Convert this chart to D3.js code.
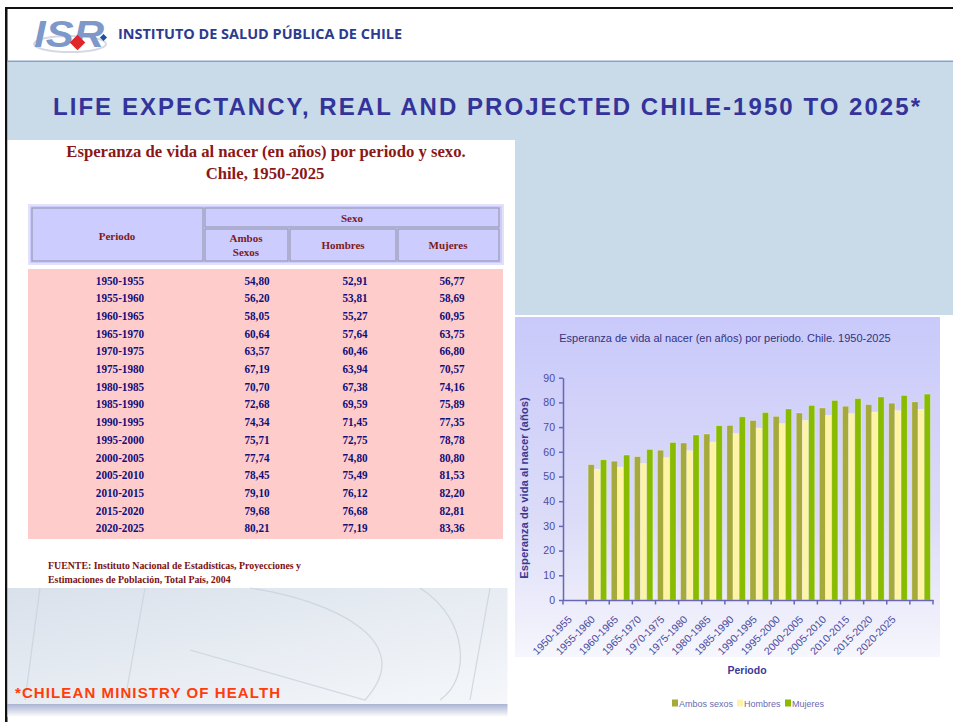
<!DOCTYPE html>
<html>
<head>
<meta charset="utf-8">
<script src="https://cdn.jsdelivr.net/npm/d3@7"></script>
<style>
  body { margin: 0; background: #fff; }
  svg { display: block; }
</style>
</head>
<body>
<script>
// Data
let periods = ["1950-1955", "1955-1960", "1960-1965", "1965-1970", "1970-1975",
  "1975-1980", "1980-1985", "1985-1990", "1990-1995", "1995-2000",
  "2000-2005", "2005-2010", "2010-2015", "2015-2020", "2020-2025"];
let ambos = [54.80, 56.20, 58.05, 60.64, 63.57, 67.19, 70.70, 72.68, 74.34, 75.71,
  77.74, 78.45, 79.10, 79.68, 80.21];
let hombres = [52.91, 53.81, 55.27, 57.64, 60.46, 63.94, 67.38, 69.59, 71.45, 72.75,
  74.80, 75.49, 76.12, 76.68, 77.19];
let mujeres = [56.77, 58.69, 60.95, 63.75, 66.80, 70.57, 74.16, 75.89, 77.35, 78.78,
  80.80, 81.53, 82.20, 82.81, 83.36];
let seriesNames = ["Ambos sexos", "Hombres", "Mujeres"];
let yTicks = [0, 10, 20, 30, 40, 50, 60, 70, 80, 90];

let width = 953, height = 722;
let sans = "'Liberation Sans', Arial, sans-serif";
let serif = "'Liberation Serif', 'Times New Roman', serif";

let svg = d3.select('body')
  .append('svg')
  .attr('width', width)
  .attr('height', height);

let defs = svg.append('defs');

let g1 = defs.append('linearGradient').attr('id', 'chartBg')
  .attr('x1', 0).attr('y1', 0).attr('x2', 0).attr('y2', 1);
g1.append('stop').attr('offset', '0%').attr('stop-color', '#c9c9fb');
g1.append('stop').attr('offset', '60%').attr('stop-color', '#dcdcf8');
g1.append('stop').attr('offset', '100%').attr('stop-color', '#f6f6fd');

let g2 = defs.append('linearGradient').attr('id', 'footBg')
  .attr('x1', 0).attr('y1', 0).attr('x2', 1).attr('y2', 1);
g2.append('stop').attr('offset', '0%').attr('stop-color', '#d9e1eb');
g2.append('stop').attr('offset', '100%').attr('stop-color', '#f5f7fa');

let g3 = defs.append('linearGradient').attr('id', 'footBar')
  .attr('x1', 0).attr('y1', 0).attr('x2', 0).attr('y2', 1);
g3.append('stop').attr('offset', '0%').attr('stop-color', '#aab3d3');
g3.append('stop').attr('offset', '100%').attr('stop-color', '#ffffff');

// ---- Slide frame and header ----
svg.append('rect').attr('x', 5).attr('y', 7).attr('width', 948).attr('height', 2).attr('fill', '#111');
svg.append('rect').attr('x', 5).attr('y', 7).attr('width', 2.5).attr('height', 715).attr('fill', '#111');

// blue title band (also right of the table)
svg.append('rect').attr('x', 7.5).attr('y', 62).attr('width', 946).attr('height', 78).attr('fill', '#c9dae9');
svg.append('rect').attr('x', 515).attr('y', 140).attr('width', 438).attr('height', 175).attr('fill', '#c9dae9');
svg.append('rect').attr('x', 7.5).attr('y', 60.5).attr('width', 946).attr('height', 1.5).attr('fill', '#86a3cc');

// logo
svg.append('ellipse').attr('cx', 70).attr('cy', 44).attr('rx', 36).attr('ry', 8)
  .attr('fill', 'none').attr('stroke', '#d5d9e3').attr('stroke-width', 2);
svg.append('text').attr('x', 34).attr('y', 47)
  .style('font-family', sans).style('font-size', '36px').style('font-weight', 'bold')
  .style('font-style', 'italic').attr('fill', '#7d98c9')
  .attr('textLength', 70).attr('lengthAdjust', 'spacingAndGlyphs')
  .text('ISR');
svg.append('rect').attr('x', 72).attr('y', 37).attr('width', 11).attr('height', 11)
  .attr('transform', 'rotate(45 77.5 42.5)').attr('fill', '#e0262b');
svg.append('rect').attr('x', 101).attr('y', 35).attr('width', 5).attr('height', 5)
  .attr('transform', 'rotate(45 103.5 37.5)').attr('fill', '#1f4e9c');

svg.append('text').attr('x', 118).attr('y', 39)
  .style('font-family', "'Open Sans', sans-serif").style('font-size', '14px').style('font-weight', 'bold')
  .attr('fill', '#2c3b8f')
  .attr('textLength', 284).attr('lengthAdjust', 'spacingAndGlyphs')
  .text('INSTITUTO DE SALUD PÚBLICA DE CHILE');

svg.append('text').attr('x', 53).attr('y', 115)
  .style('font-family', sans).style('font-size', '24px').style('font-weight', 'bold')
  .attr('fill', '#33339a')
  .attr('textLength', 867).attr('lengthAdjust', 'spacing')
  .text('LIFE EXPECTANCY, REAL AND PROJECTED CHILE-1950 TO 2025*');

// ---- Table ----
let tbl = svg.append('g');
tbl.append('rect').attr('x', 7.5).attr('y', 140).attr('width', 507.5).attr('height', 448).attr('fill', '#fff');

tbl.append('text').attr('x', 266).attr('y', 157).attr('text-anchor', 'middle')
  .style('font-family', serif).style('font-size', '16.7px').style('font-weight', 'bold')
  .attr('fill', '#8b1717')
  .text('Esperanza de vida al nacer (en años) por periodo y sexo.');
tbl.append('text').attr('x', 265).attr('y', 179).attr('text-anchor', 'middle')
  .style('font-family', serif).style('font-size', '16.7px').style('font-weight', 'bold')
  .attr('fill', '#8b1717')
  .text('Chile, 1950-2025');

// header block
tbl.append('rect').attr('x', 29).attr('y', 205).attr('width', 474).attr('height', 59)
  .attr('fill', '#ccccff').attr('stroke', '#e2e2f4').attr('stroke-width', 2);
let headCells = [
  { x: 32, y: 208, w: 171, h: 53 },
  { x: 205, y: 208, w: 294, h: 19 },
  { x: 205, y: 229, w: 83, h: 32 },
  { x: 290, y: 229, w: 106, h: 32 },
  { x: 398, y: 229, w: 101, h: 32 }
];
tbl.selectAll('.hcell').data(headCells).enter().append('rect')
  .attr('x', d => d.x).attr('y', d => d.y).attr('width', d => d.w).attr('height', d => d.h)
  .attr('fill', '#ccccff').attr('stroke', '#9a9ab4').attr('stroke-width', 1.2);
let headTexts = [
  { t: 'Periodo', x: 117, y: 240 },
  { t: 'Sexo', x: 352, y: 222 },
  { t: 'Ambos', x: 246, y: 242 },
  { t: 'Sexos', x: 246, y: 256 },
  { t: 'Hombres', x: 343, y: 249 },
  { t: 'Mujeres', x: 448, y: 249 }
];
tbl.selectAll('.htext').data(headTexts).enter().append('text')
  .attr('x', d => d.x).attr('y', d => d.y).attr('text-anchor', 'middle')
  .style('font-family', serif).style('font-size', '11px').style('font-weight', 'bold')
  .attr('fill', '#7e1a1a')
  .text(d => d.t);

// body
tbl.append('rect').attr('x', 28).attr('y', 269).attr('width', 475).attr('height', 270).attr('fill', '#ffcccc');

let rowScale = d3.scaleBand().domain(periods).range([271.2, 536.7]);
let fmt = v => d3.format('.2f')(v).replace('.', ',');
let colX = [120, 257, 355, 452];
let rows = tbl.selectAll('.row').data(periods).enter().append('g')
  .attr('transform', d => `translate(0, ${rowScale(d) + rowScale.bandwidth() / 2 + 4.5})`);
rows.each(function (p, i) {
  let cells = [p, fmt(ambos[i]), fmt(hombres[i]), fmt(mujeres[i])];
  d3.select(this).selectAll('text').data(cells).enter().append('text')
    .attr('transform', (d, j) => `translate(${colX[j]},0) scale(0.86,1)`)
    .attr('text-anchor', 'middle')
    .style('font-family', serif).style('font-size', '13px').style('font-weight', 'bold')
    .attr('fill', '#10107a')
    .text(d => d);
});

tbl.append('text').attr('transform', 'translate(48,569) scale(0.94,1)')
  .style('font-family', serif).style('font-size', '10.5px').style('font-weight', 'bold')
  .attr('fill', '#7a1212')
  .text('FUENTE: Instituto Nacional de Estadísticas, Proyecciones y');
tbl.append('text').attr('transform', 'translate(48,583) scale(0.94,1)')
  .style('font-family', serif).style('font-size', '10.5px').style('font-weight', 'bold')
  .attr('fill', '#7a1212')
  .text('Estimaciones de Población, Total País, 2004');

// ---- Bottom-left background with faint watermark ----
svg.append('rect').attr('x', 7.5).attr('y', 588).attr('width', 500).attr('height', 116).attr('fill', 'url(#footBg)');
let wm = svg.append('g').attr('fill', 'none').attr('stroke', '#c9d2de').attr('stroke-width', 1.2).attr('opacity', 0.8);
wm.append('path').attr('d', 'M40,588 L25,700');
wm.append('path').attr('d', 'M145,588 L125,700');
wm.append('path').attr('d', 'M250,588 C330,600 420,640 365,700 L190,650');
wm.append('path').attr('d', 'M420,588 C470,620 470,680 440,700');
wm.append('path').attr('d', 'M490,588 L470,700');
svg.append('rect').attr('x', 7.5).attr('y', 704).attr('width', 500).attr('height', 13).attr('fill', 'url(#footBar)');

svg.append('text').attr('x', 15).attr('y', 698)
  .style('font-family', sans).style('font-size', '15px').style('font-weight', 'bold')
  .attr('fill', '#ff3d0a')
  .attr('textLength', 265).attr('lengthAdjust', 'spacing')
  .text('*CHILEAN MINISTRY OF HEALTH');

// ---- Chart ----
let chart = svg.append('g');
chart.append('rect').attr('x', 515).attr('y', 317).attr('width', 425).attr('height', 340).attr('fill', 'url(#chartBg)');

let margin = { left: 563, right: 933, top: 377.7, bottom: 600 };

let yScale = d3.scaleLinear()
  .domain([0, 90])
  .range([margin.bottom, margin.top]);

// 16 slots: the first one is empty, the data sit one slot to the right
let slots = d3.range(periods.length + 1);
let xScale = d3.scaleBand()
  .domain(slots)
  .range([margin.left, margin.right])
  .paddingInner(0).paddingOuter(0);

let x1 = d3.scaleBand()
  .domain(seriesNames)
  .range([2, 20.5]);

let colors = d3.scaleOrdinal()
  .domain(seriesNames)
  .range(['#a6aa3a', '#fff3a6', '#89bc00']);

let axisColor = '#6767b4';
let tickText = '#4c4ca0';

chart.append('text').attr('x', 725).attr('y', 342).attr('text-anchor', 'middle')
  .style('font-family', sans).style('font-size', '11px')
  .attr('fill', '#33337f')
  .text('Esperanza de vida al nacer (en años) por periodo. Chile. 1950-2025');

let seriesData = [ambos, hombres, mujeres];
let groups = chart.selectAll('.grp').data(periods).enter().append('g')
  .attr('transform', (d, i) => `translate(${xScale(i + 1)},0)`);
groups.selectAll('rect')
  .data((d, i) => seriesNames.map((s, k) => ({ s: s, v: seriesData[k][i] })))
  .enter().append('rect')
  .attr('x', d => x1(d.s))
  .attr('y', d => yScale(d.v))
  .attr('width', x1.bandwidth())
  .attr('height', d => yScale(0) - yScale(d.v))
  .attr('fill', d => colors(d.s))
  .attr('stroke', 'rgba(255,255,255,0.35)')
  .attr('stroke-width', 0.8);

// y axis
let yAxis = chart.append('g')
  .attr('transform', `translate(${margin.left},0)`)
  .call(d3.axisLeft(yScale).tickValues(yTicks).tickSize(4).tickSizeOuter(0).tickPadding(4));
yAxis.select('.domain').attr('stroke', axisColor).attr('stroke-width', 1.5);
yAxis.selectAll('.tick line').attr('stroke', axisColor).attr('stroke-width', 1.5);
yAxis.selectAll('.tick text')
  .style('font-family', sans).style('font-size', '10.5px').attr('fill', tickText);

// x axis: labels at slot centres, ticks at slot edges
let xAxis = chart.append('g')
  .attr('transform', `translate(0,${margin.bottom})`)
  .call(d3.axisBottom(xScale).tickSize(0).tickSizeOuter(0).tickPadding(0)
    .tickFormat(i => periods[i] || ''));
xAxis.select('.domain').attr('stroke', axisColor).attr('stroke-width', 1.5);
xAxis.selectAll('.tick text')
  .style('font-family', sans).style('font-size', '10.5px').attr('fill', tickText)
  .attr('text-anchor', 'end')
  .attr('dy', 0)
  .attr('transform', 'translate(-2,20) rotate(-45)');
let edges = slots.map(i => xScale(i)).concat([margin.right]);
chart.selectAll('.xedge').data(edges).enter().append('line')
  .attr('x1', d => d).attr('x2', d => d)
  .attr('y1', margin.bottom).attr('y2', margin.bottom + 4.5)
  .attr('stroke', axisColor).attr('stroke-width', 1.5);

// axis titles
chart.append('text')
  .attr('transform', 'translate(528,488) rotate(-90)')
  .attr('text-anchor', 'middle')
  .style('font-family', sans).style('font-size', '11.3px').style('font-weight', 'bold')
  .attr('fill', '#3a3a96')
  .text('Esperanza de vida al nacer (años)');
chart.append('text').attr('x', 747).attr('y', 674).attr('text-anchor', 'middle')
  .style('font-family', sans).style('font-size', '10.5px').style('font-weight', 'bold')
  .attr('fill', '#3a3a96')
  .text('Periodo');

// legend
let legendX = [672, 737, 785];
let legend = chart.selectAll('.leg').data(seriesNames).enter().append('g')
  .attr('transform', (d, i) => `translate(${legendX[i]},703)`);
legend.append('rect').attr('x', 0).attr('y', -3.5).attr('width', 6).attr('height', 7)
  .attr('fill', d => colors(d));
legend.append('text').attr('x', 7).attr('y', 3.5)
  .style('font-family', sans).style('font-size', '9px')
  .attr('fill', '#6a6ab0')
  .text(d => d);
</script>
</body>
</html>
